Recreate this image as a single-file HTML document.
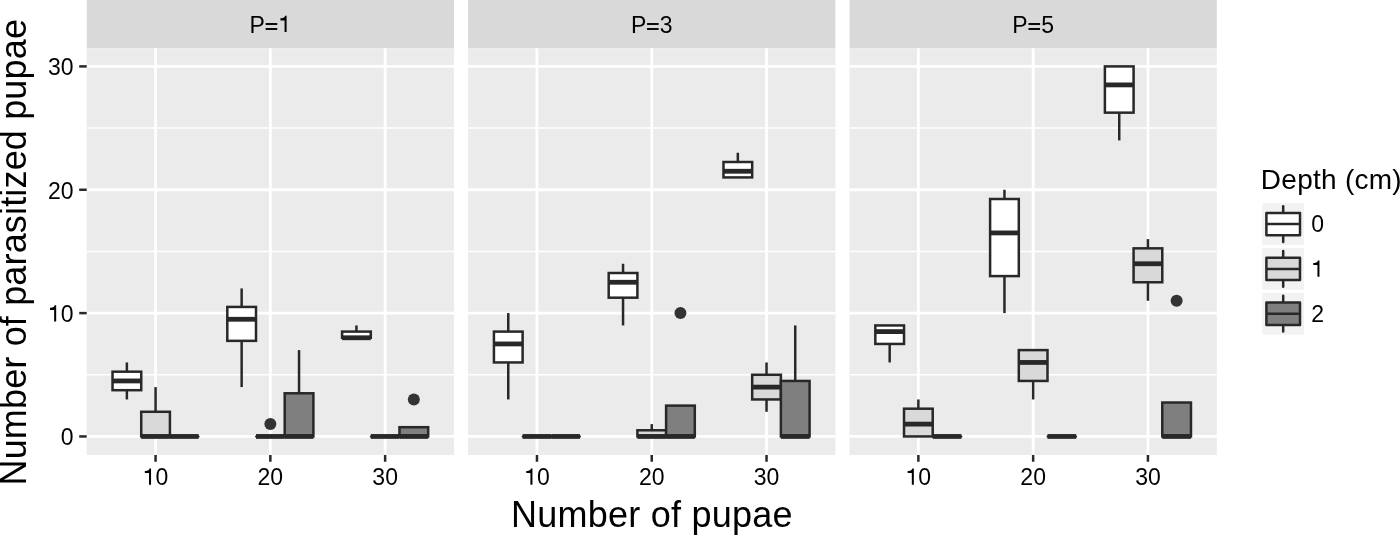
<!DOCTYPE html><html><head><meta charset="utf-8"><title>Parasitized pupae by depth</title><style>html,body{margin:0;padding:0;background:#fff;overflow:hidden;}svg{display:block;will-change:transform;}text{font-family:"Liberation Sans",sans-serif;fill:#000;}</style></head><body>
<svg width="1400" height="535" viewBox="0 0 1400 535">
<rect x="0" y="0" width="1400" height="535" fill="#fff"/>
<rect x="86.7" y="0" width="367.3" height="48.2" fill="#d9d9d9"/>
<text x="249.57" y="32.5" font-size="23">P</text>
<rect x="265.65" y="23.05" width="11.6" height="1.9" fill="#000"/>
<rect x="265.65" y="28.05" width="11.6" height="1.9" fill="#000"/>
<path transform="translate(278.343,32.5) scale(0.023,-0.023)" d="M271 25H359V730H293C281 677 245 623 90 617V527H271Z" fill="#000"/>
<rect x="86.7" y="48.2" width="367.3" height="406.75" fill="#ebebeb"/>
<line x1="86.7" x2="454" y1="374.775" y2="374.775" stroke="#fff" stroke-width="1.5"/>
<line x1="86.7" x2="454" y1="251.425" y2="251.425" stroke="#fff" stroke-width="1.5"/>
<line x1="86.7" x2="454" y1="128.075" y2="128.075" stroke="#fff" stroke-width="1.5"/>
<line x1="86.7" x2="454" y1="436.45" y2="436.45" stroke="#fff" stroke-width="2.8"/>
<line x1="86.7" x2="454" y1="313.1" y2="313.1" stroke="#fff" stroke-width="2.8"/>
<line x1="86.7" x2="454" y1="189.75" y2="189.75" stroke="#fff" stroke-width="2.8"/>
<line x1="86.7" x2="454" y1="66.4" y2="66.4" stroke="#fff" stroke-width="2.8"/>
<line x1="155.569" x2="155.569" y1="48.2" y2="454.95" stroke="#fff" stroke-width="2.8"/>
<line x1="270.35" x2="270.35" y1="48.2" y2="454.95" stroke="#fff" stroke-width="2.8"/>
<line x1="385.131" x2="385.131" y1="48.2" y2="454.95" stroke="#fff" stroke-width="2.8"/>
<line x1="126.873" x2="126.873" y1="371.691" y2="362.44" stroke="#282828" stroke-width="2.5"/>
<line x1="126.873" x2="126.873" y1="390.194" y2="399.445" stroke="#282828" stroke-width="2.5"/>
<rect x="112.526" y="371.691" width="28.695" height="18.502" fill="#ffffff" stroke="#282828" stroke-width="2.5"/>
<line x1="112.526" x2="141.221" y1="380.942" y2="380.942" stroke="#282828" stroke-width="4.8"/>
<line x1="155.569" x2="155.569" y1="411.78" y2="387.11" stroke="#282828" stroke-width="2.5"/>
<rect x="141.221" y="411.78" width="28.695" height="24.67" fill="#d9d9d9" stroke="#282828" stroke-width="2.5"/>
<line x1="141.221" x2="169.916" y1="436.45" y2="436.45" stroke="#282828" stroke-width="4.8"/>
<polygon points="168.666,436.45 169.916,435.2 198.612,435.2 199.862,436.45 198.612,437.7 169.916,437.7" fill="#282828"/>
<line x1="169.916" x2="198.612" y1="436.45" y2="436.45" stroke="#282828" stroke-width="4.8"/>
<line x1="241.655" x2="241.655" y1="306.933" y2="288.43" stroke="#282828" stroke-width="2.5"/>
<line x1="241.655" x2="241.655" y1="340.854" y2="387.11" stroke="#282828" stroke-width="2.5"/>
<rect x="227.307" y="306.933" width="28.695" height="33.921" fill="#ffffff" stroke="#282828" stroke-width="2.5"/>
<line x1="227.307" x2="256.002" y1="319.267" y2="319.267" stroke="#282828" stroke-width="4.8"/>
<circle cx="270.35" cy="424.115" r="6" fill="#333333"/>
<polygon points="254.752,436.45 256.002,435.2 284.698,435.2 285.948,436.45 284.698,437.7 256.002,437.7" fill="#282828"/>
<line x1="256.002" x2="284.698" y1="436.45" y2="436.45" stroke="#282828" stroke-width="4.8"/>
<line x1="299.045" x2="299.045" y1="393.277" y2="350.105" stroke="#282828" stroke-width="2.5"/>
<rect x="284.698" y="393.277" width="28.695" height="43.173" fill="#7f7f7f" stroke="#282828" stroke-width="2.5"/>
<line x1="284.698" x2="313.393" y1="436.45" y2="436.45" stroke="#282828" stroke-width="4.8"/>
<line x1="356.436" x2="356.436" y1="331.602" y2="325.435" stroke="#282828" stroke-width="2.5"/>
<rect x="342.088" y="331.602" width="28.695" height="6.168" fill="#ffffff" stroke="#282828" stroke-width="2.5"/>
<line x1="342.088" x2="370.784" y1="337.77" y2="337.77" stroke="#282828" stroke-width="4.8"/>
<polygon points="369.534,436.45 370.784,435.2 399.479,435.2 400.729,436.45 399.479,437.7 370.784,437.7" fill="#282828"/>
<line x1="370.784" x2="399.479" y1="436.45" y2="436.45" stroke="#282828" stroke-width="4.8"/>
<circle cx="413.827" cy="399.445" r="6" fill="#333333"/>
<rect x="399.479" y="427.199" width="28.695" height="9.251" fill="#7f7f7f" stroke="#282828" stroke-width="2.5"/>
<line x1="399.479" x2="428.174" y1="436.45" y2="436.45" stroke="#282828" stroke-width="4.8"/>
<line x1="155.569" x2="155.569" y1="454.95" y2="461.75" stroke="#282828" stroke-width="2.5"/>
<path transform="translate(142.781,485.2) scale(0.023,-0.023)" d="M271 25H359V730H293C281 677 245 623 90 617V527H271Z" fill="#000"/>
<text x="155.569" y="485.2" font-size="23">0</text>
<line x1="270.35" x2="270.35" y1="454.95" y2="461.75" stroke="#282828" stroke-width="2.5"/>
<text x="257.562" y="485.2" font-size="23">2</text>
<text x="270.35" y="485.2" font-size="23">0</text>
<line x1="385.131" x2="385.131" y1="454.95" y2="461.75" stroke="#282828" stroke-width="2.5"/>
<text x="372.343" y="485.2" font-size="23">3</text>
<text x="385.131" y="485.2" font-size="23">0</text>
<rect x="468.1" y="0" width="367.3" height="48.2" fill="#d9d9d9"/>
<text x="630.97" y="32.5" font-size="23">P</text>
<rect x="647.05" y="23.05" width="11.6" height="1.9" fill="#000"/>
<rect x="647.05" y="28.05" width="11.6" height="1.9" fill="#000"/>
<text x="659.743" y="32.5" font-size="23">3</text>
<rect x="468.1" y="48.2" width="367.3" height="406.75" fill="#ebebeb"/>
<line x1="468.1" x2="835.4" y1="374.775" y2="374.775" stroke="#fff" stroke-width="1.5"/>
<line x1="468.1" x2="835.4" y1="251.425" y2="251.425" stroke="#fff" stroke-width="1.5"/>
<line x1="468.1" x2="835.4" y1="128.075" y2="128.075" stroke="#fff" stroke-width="1.5"/>
<line x1="468.1" x2="835.4" y1="436.45" y2="436.45" stroke="#fff" stroke-width="2.8"/>
<line x1="468.1" x2="835.4" y1="313.1" y2="313.1" stroke="#fff" stroke-width="2.8"/>
<line x1="468.1" x2="835.4" y1="189.75" y2="189.75" stroke="#fff" stroke-width="2.8"/>
<line x1="468.1" x2="835.4" y1="66.4" y2="66.4" stroke="#fff" stroke-width="2.8"/>
<line x1="536.969" x2="536.969" y1="48.2" y2="454.95" stroke="#fff" stroke-width="2.8"/>
<line x1="651.75" x2="651.75" y1="48.2" y2="454.95" stroke="#fff" stroke-width="2.8"/>
<line x1="766.531" x2="766.531" y1="48.2" y2="454.95" stroke="#fff" stroke-width="2.8"/>
<line x1="508.273" x2="508.273" y1="331.602" y2="313.1" stroke="#282828" stroke-width="2.5"/>
<line x1="508.273" x2="508.273" y1="362.44" y2="399.445" stroke="#282828" stroke-width="2.5"/>
<rect x="493.926" y="331.602" width="28.695" height="30.838" fill="#ffffff" stroke="#282828" stroke-width="2.5"/>
<line x1="493.926" x2="522.621" y1="343.938" y2="343.938" stroke="#282828" stroke-width="4.8"/>
<polygon points="521.371,436.45 522.621,435.2 551.316,435.2 552.566,436.45 551.316,437.7 522.621,437.7" fill="#282828"/>
<line x1="522.621" x2="551.316" y1="436.45" y2="436.45" stroke="#282828" stroke-width="4.8"/>
<polygon points="550.066,436.45 551.316,435.2 580.012,435.2 581.262,436.45 580.012,437.7 551.316,437.7" fill="#282828"/>
<line x1="551.316" x2="580.012" y1="436.45" y2="436.45" stroke="#282828" stroke-width="4.8"/>
<line x1="623.055" x2="623.055" y1="273.011" y2="263.76" stroke="#282828" stroke-width="2.5"/>
<line x1="623.055" x2="623.055" y1="297.681" y2="325.435" stroke="#282828" stroke-width="2.5"/>
<rect x="608.707" y="273.011" width="28.695" height="24.67" fill="#ffffff" stroke="#282828" stroke-width="2.5"/>
<line x1="608.707" x2="637.402" y1="282.262" y2="282.262" stroke="#282828" stroke-width="4.8"/>
<line x1="651.75" x2="651.75" y1="430.282" y2="424.115" stroke="#282828" stroke-width="2.5"/>
<rect x="637.402" y="430.282" width="28.695" height="6.168" fill="#d9d9d9" stroke="#282828" stroke-width="2.5"/>
<line x1="637.402" x2="666.098" y1="436.45" y2="436.45" stroke="#282828" stroke-width="4.8"/>
<circle cx="680.445" cy="313.1" r="6" fill="#333333"/>
<rect x="666.098" y="405.613" width="28.695" height="30.837" fill="#7f7f7f" stroke="#282828" stroke-width="2.5"/>
<line x1="666.098" x2="694.793" y1="436.45" y2="436.45" stroke="#282828" stroke-width="4.8"/>
<line x1="737.836" x2="737.836" y1="161.996" y2="152.745" stroke="#282828" stroke-width="2.5"/>
<rect x="723.488" y="161.996" width="28.695" height="15.419" fill="#ffffff" stroke="#282828" stroke-width="2.5"/>
<line x1="723.488" x2="752.184" y1="171.247" y2="171.247" stroke="#282828" stroke-width="4.8"/>
<line x1="766.531" x2="766.531" y1="374.775" y2="362.44" stroke="#282828" stroke-width="2.5"/>
<line x1="766.531" x2="766.531" y1="399.445" y2="411.78" stroke="#282828" stroke-width="2.5"/>
<rect x="752.184" y="374.775" width="28.695" height="24.67" fill="#d9d9d9" stroke="#282828" stroke-width="2.5"/>
<line x1="752.184" x2="780.879" y1="387.11" y2="387.11" stroke="#282828" stroke-width="4.8"/>
<line x1="795.227" x2="795.227" y1="380.942" y2="325.435" stroke="#282828" stroke-width="2.5"/>
<rect x="780.879" y="380.942" width="28.695" height="55.507" fill="#7f7f7f" stroke="#282828" stroke-width="2.5"/>
<line x1="780.879" x2="809.574" y1="436.45" y2="436.45" stroke="#282828" stroke-width="4.8"/>
<line x1="536.969" x2="536.969" y1="454.95" y2="461.75" stroke="#282828" stroke-width="2.5"/>
<path transform="translate(524.181,485.2) scale(0.023,-0.023)" d="M271 25H359V730H293C281 677 245 623 90 617V527H271Z" fill="#000"/>
<text x="536.969" y="485.2" font-size="23">0</text>
<line x1="651.75" x2="651.75" y1="454.95" y2="461.75" stroke="#282828" stroke-width="2.5"/>
<text x="638.962" y="485.2" font-size="23">2</text>
<text x="651.75" y="485.2" font-size="23">0</text>
<line x1="766.531" x2="766.531" y1="454.95" y2="461.75" stroke="#282828" stroke-width="2.5"/>
<text x="753.743" y="485.2" font-size="23">3</text>
<text x="766.531" y="485.2" font-size="23">0</text>
<rect x="849.5" y="0" width="367.3" height="48.2" fill="#d9d9d9"/>
<text x="1012.37" y="32.5" font-size="23">P</text>
<rect x="1028.45" y="23.05" width="11.6" height="1.9" fill="#000"/>
<rect x="1028.45" y="28.05" width="11.6" height="1.9" fill="#000"/>
<text x="1041.143" y="32.5" font-size="23">5</text>
<rect x="849.5" y="48.2" width="367.3" height="406.75" fill="#ebebeb"/>
<line x1="849.5" x2="1216.8" y1="374.775" y2="374.775" stroke="#fff" stroke-width="1.5"/>
<line x1="849.5" x2="1216.8" y1="251.425" y2="251.425" stroke="#fff" stroke-width="1.5"/>
<line x1="849.5" x2="1216.8" y1="128.075" y2="128.075" stroke="#fff" stroke-width="1.5"/>
<line x1="849.5" x2="1216.8" y1="436.45" y2="436.45" stroke="#fff" stroke-width="2.8"/>
<line x1="849.5" x2="1216.8" y1="313.1" y2="313.1" stroke="#fff" stroke-width="2.8"/>
<line x1="849.5" x2="1216.8" y1="189.75" y2="189.75" stroke="#fff" stroke-width="2.8"/>
<line x1="849.5" x2="1216.8" y1="66.4" y2="66.4" stroke="#fff" stroke-width="2.8"/>
<line x1="918.369" x2="918.369" y1="48.2" y2="454.95" stroke="#fff" stroke-width="2.8"/>
<line x1="1033.15" x2="1033.15" y1="48.2" y2="454.95" stroke="#fff" stroke-width="2.8"/>
<line x1="1147.931" x2="1147.931" y1="48.2" y2="454.95" stroke="#fff" stroke-width="2.8"/>
<line x1="889.673" x2="889.673" y1="343.938" y2="362.44" stroke="#282828" stroke-width="2.5"/>
<rect x="875.326" y="325.435" width="28.695" height="18.503" fill="#ffffff" stroke="#282828" stroke-width="2.5"/>
<line x1="875.326" x2="904.021" y1="331.602" y2="331.602" stroke="#282828" stroke-width="4.8"/>
<line x1="918.369" x2="918.369" y1="408.696" y2="399.445" stroke="#282828" stroke-width="2.5"/>
<rect x="904.021" y="408.696" width="28.695" height="27.754" fill="#d9d9d9" stroke="#282828" stroke-width="2.5"/>
<line x1="904.021" x2="932.716" y1="424.115" y2="424.115" stroke="#282828" stroke-width="4.8"/>
<polygon points="931.466,436.45 932.716,435.2 961.412,435.2 962.662,436.45 961.412,437.7 932.716,437.7" fill="#282828"/>
<line x1="932.716" x2="961.412" y1="436.45" y2="436.45" stroke="#282828" stroke-width="4.8"/>
<line x1="1004.455" x2="1004.455" y1="199.001" y2="189.75" stroke="#282828" stroke-width="2.5"/>
<line x1="1004.455" x2="1004.455" y1="276.095" y2="313.1" stroke="#282828" stroke-width="2.5"/>
<rect x="990.107" y="199.001" width="28.695" height="77.094" fill="#ffffff" stroke="#282828" stroke-width="2.5"/>
<line x1="990.107" x2="1018.802" y1="232.922" y2="232.922" stroke="#282828" stroke-width="4.8"/>
<line x1="1033.15" x2="1033.15" y1="380.942" y2="399.445" stroke="#282828" stroke-width="2.5"/>
<rect x="1018.802" y="350.105" width="28.695" height="30.837" fill="#d9d9d9" stroke="#282828" stroke-width="2.5"/>
<line x1="1018.802" x2="1047.498" y1="362.44" y2="362.44" stroke="#282828" stroke-width="4.8"/>
<polygon points="1046.248,436.45 1047.498,435.2 1076.193,435.2 1077.443,436.45 1076.193,437.7 1047.498,437.7" fill="#282828"/>
<line x1="1047.498" x2="1076.193" y1="436.45" y2="436.45" stroke="#282828" stroke-width="4.8"/>
<line x1="1119.236" x2="1119.236" y1="112.656" y2="140.41" stroke="#282828" stroke-width="2.5"/>
<rect x="1104.888" y="66.4" width="28.695" height="46.256" fill="#ffffff" stroke="#282828" stroke-width="2.5"/>
<line x1="1104.888" x2="1133.584" y1="84.902" y2="84.902" stroke="#282828" stroke-width="4.8"/>
<line x1="1147.931" x2="1147.931" y1="248.341" y2="239.09" stroke="#282828" stroke-width="2.5"/>
<line x1="1147.931" x2="1147.931" y1="282.262" y2="300.765" stroke="#282828" stroke-width="2.5"/>
<rect x="1133.584" y="248.341" width="28.695" height="33.921" fill="#d9d9d9" stroke="#282828" stroke-width="2.5"/>
<line x1="1133.584" x2="1162.279" y1="263.76" y2="263.76" stroke="#282828" stroke-width="4.8"/>
<circle cx="1176.627" cy="300.765" r="6" fill="#333333"/>
<rect x="1162.279" y="402.529" width="28.695" height="33.921" fill="#7f7f7f" stroke="#282828" stroke-width="2.5"/>
<line x1="1162.279" x2="1190.974" y1="436.45" y2="436.45" stroke="#282828" stroke-width="4.8"/>
<line x1="918.369" x2="918.369" y1="454.95" y2="461.75" stroke="#282828" stroke-width="2.5"/>
<path transform="translate(905.581,485.2) scale(0.023,-0.023)" d="M271 25H359V730H293C281 677 245 623 90 617V527H271Z" fill="#000"/>
<text x="918.369" y="485.2" font-size="23">0</text>
<line x1="1033.15" x2="1033.15" y1="454.95" y2="461.75" stroke="#282828" stroke-width="2.5"/>
<text x="1020.362" y="485.2" font-size="23">2</text>
<text x="1033.15" y="485.2" font-size="23">0</text>
<line x1="1147.931" x2="1147.931" y1="454.95" y2="461.75" stroke="#282828" stroke-width="2.5"/>
<text x="1135.143" y="485.2" font-size="23">3</text>
<text x="1147.931" y="485.2" font-size="23">0</text>
<line x1="79.2" x2="86.7" y1="436.45" y2="436.45" stroke="#282828" stroke-width="2.5"/>
<text x="60.712" y="445.35" font-size="23">0</text>
<line x1="79.2" x2="86.7" y1="313.1" y2="313.1" stroke="#282828" stroke-width="2.5"/>
<path transform="translate(47.924,322) scale(0.023,-0.023)" d="M271 25H359V730H293C281 677 245 623 90 617V527H271Z" fill="#000"/>
<text x="60.712" y="322" font-size="23">0</text>
<line x1="79.2" x2="86.7" y1="189.75" y2="189.75" stroke="#282828" stroke-width="2.5"/>
<text x="47.924" y="198.65" font-size="23">2</text>
<text x="60.712" y="198.65" font-size="23">0</text>
<line x1="79.2" x2="86.7" y1="66.4" y2="66.4" stroke="#282828" stroke-width="2.5"/>
<text x="47.924" y="75.3" font-size="23">3</text>
<text x="60.712" y="75.3" font-size="23">0</text>
<text x="652" y="527.2" font-size="36" letter-spacing="0.24" text-anchor="middle">Number of pupae</text>
<text transform="translate(26,252.2) rotate(-90)" x="0" y="0" font-size="36" letter-spacing="0.16" text-anchor="middle">Number of parasitized pupae</text>
<text x="1260.8" y="188.9" font-size="28" letter-spacing="0.27">Depth (cm)</text>
<rect x="1260.8" y="201.7" width="44.8" height="44.8" fill="#f2f2f2" stroke="#fff" stroke-width="3"/>
<rect x="1260.8" y="246.5" width="44.8" height="44.8" fill="#f2f2f2" stroke="#fff" stroke-width="3"/>
<rect x="1260.8" y="291.3" width="44.8" height="44.8" fill="#f2f2f2" stroke="#fff" stroke-width="3"/>
<line x1="1283.2" x2="1283.2" y1="206.18" y2="212.9" stroke="#282828" stroke-width="2.5" stroke-linecap="round"/>
<line x1="1283.2" x2="1283.2" y1="235.3" y2="242.02" stroke="#282828" stroke-width="2.5" stroke-linecap="round"/>
<rect x="1266.4" y="212.9" width="33.6" height="22.4" fill="#ffffff" stroke="#282828" stroke-width="2.5" stroke-linejoin="round"/>
<line x1="1266.4" x2="1300" y1="224.1" y2="224.1" stroke="#282828" stroke-width="2.5"/>
<text x="1311.2" y="232.4" font-size="23">0</text>
<line x1="1283.2" x2="1283.2" y1="250.98" y2="257.7" stroke="#282828" stroke-width="2.5" stroke-linecap="round"/>
<line x1="1283.2" x2="1283.2" y1="280.1" y2="286.82" stroke="#282828" stroke-width="2.5" stroke-linecap="round"/>
<rect x="1266.4" y="257.7" width="33.6" height="22.4" fill="#d9d9d9" stroke="#282828" stroke-width="2.5" stroke-linejoin="round"/>
<line x1="1266.4" x2="1300" y1="268.9" y2="268.9" stroke="#282828" stroke-width="2.5"/>
<path transform="translate(1311.2,277.2) scale(0.023,-0.023)" d="M271 25H359V730H293C281 677 245 623 90 617V527H271Z" fill="#000"/>
<line x1="1283.2" x2="1283.2" y1="295.78" y2="302.5" stroke="#282828" stroke-width="2.5" stroke-linecap="round"/>
<line x1="1283.2" x2="1283.2" y1="324.9" y2="331.62" stroke="#282828" stroke-width="2.5" stroke-linecap="round"/>
<rect x="1266.4" y="302.5" width="33.6" height="22.4" fill="#7f7f7f" stroke="#282828" stroke-width="2.5" stroke-linejoin="round"/>
<line x1="1266.4" x2="1300" y1="313.7" y2="313.7" stroke="#282828" stroke-width="2.5"/>
<text x="1311.2" y="322" font-size="23">2</text>
</svg></body></html>
